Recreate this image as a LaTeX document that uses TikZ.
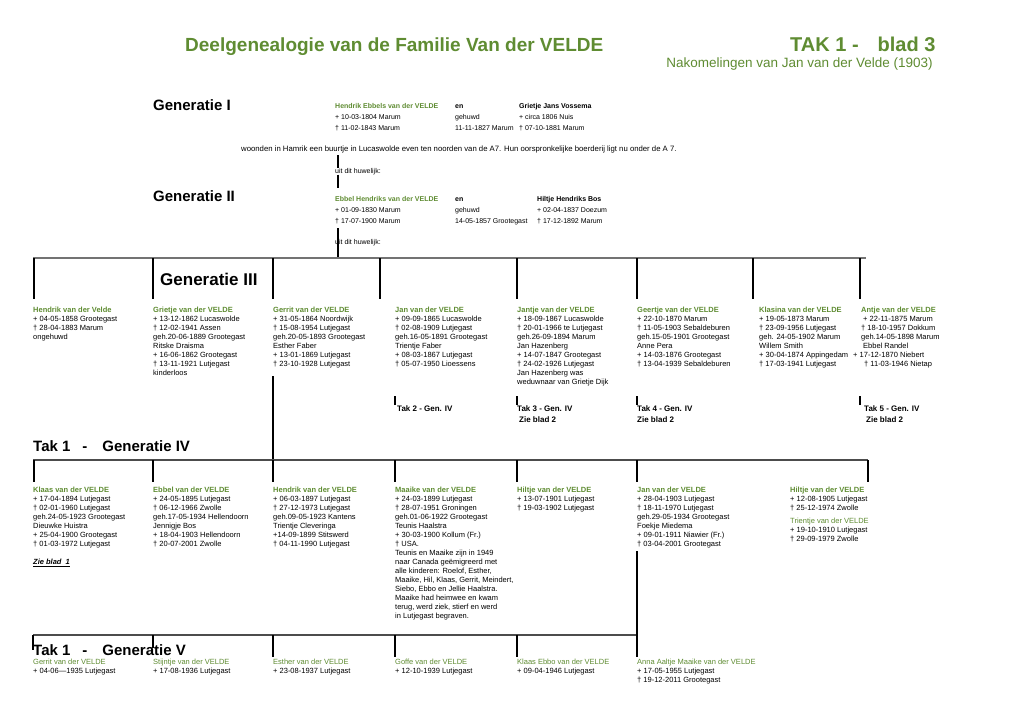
\documentclass[tikz,border=0pt]{standalone}
\usepackage{fontspec}
\setmainfont{Liberation Sans}
\definecolor{famgroen}{RGB}{95,140,50}
\tikzset{
  kop/.style={anchor=base west, inner sep=0pt, font=\fontsize{15}{18}\selectfont\bfseries},
  kind/.style={anchor=north west, inner sep=0pt, align=left, font=\fontsize{7.5}{9}\selectfont},
  ouder/.style={anchor=north west, inner sep=0pt, align=left, font=\fontsize{7}{11}\selectfont},
  tak/.style={anchor=north west, inner sep=0pt, align=left, font=\fontsize{8}{11}\selectfont\bfseries},
  balk/.style={draw=black!55, line width=2.4pt},
  balkdun/.style={draw=black!70, line width=1.6pt},
  lijn/.style={line width=1.2pt},
  stam/.style={line width=1.8pt}
}
\newcommand{\naam}[1]{\textcolor{famgroen}{\bfseries #1}}
\newcommand{\kleinnaam}[1]{\textcolor{famgroen}{#1}}
\begin{document}
\begin{tikzpicture}[x=1pt,y=-1pt]
  \useasboundingbox[fill=white] (0,0) rectangle (1020,721);

  \node[anchor=base west, inner sep=0pt, text=famgroen, font=\fontsize{19}{22}\selectfont\bfseries] (titel) at (185,51) {Deelgenealogie van de Familie Van der VELDE};
  \node[anchor=base west, inner sep=0pt, text=famgroen, font=\fontsize{20}{22}\selectfont\bfseries] (blad) at (790,51) {TAK 1 -\hspace{19pt}blad 3};
  \node[anchor=base east, inner sep=0pt, text=famgroen, font=\fontsize{13.5}{16}\selectfont] (nakomelingen) at (933,67) {Nakomelingen van Jan van der Velde (1903)};

  \node[kop] (gen1) at (153,110) {Generatie I};
  \node[ouder] (hendrikI) at (335,101) {\strut\naam{Hendrik Ebbels van der VELDE}\\+ 10-03-1804 Marum\\† 11-02-1843 Marum};
  \node[ouder] (huw1) at (455,101) {\strut\textbf{en}\\gehuwd\\11-11-1827 Marum};
  \node[ouder] (grietjeI) at (519,101) {\strut\textbf{Grietje Jans Vossema}\\+ circa 1806 Nuis\\† 07-10-1881 Marum};
  \node[anchor=base west, inner sep=0pt, font=\fontsize{7.75}{9}\selectfont] (woonden) at (241,151) {woonden in Hamrik een buurtje in Lucaswolde even ten noorden van de A7. Hun oorspronkelijke boerderij ligt nu onder de A 7.};
  \node[anchor=base west, inner sep=0pt, font=\fontsize{7}{9}\selectfont] (uit1) at (335,173) {uit dit huwelijk:};
  \coordinate (stam1) at (338,155);
  \coordinate (stam2) at (338,188);
  \draw[stam] (stam1) -- (stam1 |- uit1.north);
  \draw[stam] (stam1 |- uit1.south) -- (stam2);

  \node[kop] (gen2) at (153,201) {Generatie II};
  \node[ouder] (ebbelII) at (335,194) {\strut\naam{Ebbel Hendriks van der VELDE}\\+ 01-09-1830 Marum\\† 17-07-1900 Marum};
  \node[ouder] (huw2) at (455,194) {\strut\textbf{en}\\gehuwd\\14-05-1857 Grootegast};
  \node[ouder] (hiltjeII) at (537,194) {\strut\textbf{Hiltje Hendriks Bos}\\+ 02-04-1837 Doezum\\† 17-12-1892 Marum};
  \node[anchor=base west, inner sep=0pt, font=\fontsize{7}{9}\selectfont] (uit2) at (335,244) {uit dit huwelijk:};
  \coordinate (stam3) at (338,228);
  \coordinate (balk3l) at (33,258);
  \coordinate (balk3r) at (866,258);
  \draw[stam] (stam3) -- (stam3 |- balk3l);
  \draw[balk] (balk3l) -- (balk3r);

  \node[kop, font=\fontsize{17}{20}\selectfont\bfseries] (gen3) at (160,285) {Generatie III};
  \node[kind] (hendrikIII) at (33,307) {\naam{Hendrik van der Velde}\\+ 04-05-1858 Grootegast\\† 28-04-1883 Marum\\ongehuwd};
  \node[kind] (grietjeIII) at (153,307) {\naam{Grietje van der VELDE}\\+ 13-12-1862 Lucaswolde\\† 12-02-1941 Assen\\geh.20-06-1889 Grootegast\\Ritske Draisma\\+ 16-06-1862 Grootegast\\† 13-11-1921 Lutjegast\\kinderloos};
  \node[kind] (gerritIII) at (273,307) {\naam{Gerrit van der VELDE}\\+ 31-05-1864 Noordwijk\\† 15-08-1954 Lutjegast\\geh.20-05-1893 Grootegast\\Esther Faber\\+ 13-01-1869 Lutjegast\\† 23-10-1928 Lutjegast};
  \node[kind] (janIII) at (395,307) {\naam{Jan van der VELDE}\\+ 09-09-1865 Lucaswolde\\† 02-08-1909 Lutjegast\\geh.16-05-1891 Grootegast\\Trientje Faber\\+ 08-03-1867 Lutjegast\\† 05-07-1950 Lioessens};
  \node[kind] (jantjeIII) at (517,307) {\naam{Jantje van der VELDE}\\+ 18-09-1867 Lucaswolde\\† 20-01-1966 te Lutjegast\\geh.26-09-1894 Marum\\Jan Hazenberg\\+ 14-07-1847 Grootegast\\† 24-02-1926 Lutjegast\\Jan Hazenberg was\\weduwnaar van Grietje Dijk};
  \node[kind] (geertjeIII) at (637,307) {\naam{Geertje van der VELDE}\\+ 22-10-1870 Marum\\† 11-05-1903 Sebaldeburen\\geh.15-05-1901 Grootegast\\Anne Pera\\+ 14-03-1876 Grootegast\\† 13-04-1939 Sebaldeburen};
  \node[kind] (klasinaIII) at (759,307) {\naam{Klasina van der VELDE}\\+ 19-05-1873 Marum\\† 23-09-1956 Lutjegast\\geh. 24-05-1902 Marum\\Willem Smith\\+ 30-04-1874 Appingedam\\† 17-03-1941 Lutjegast};
  \node[kind] (antjeIII) at (861,307) {\naam{Antje van der VELDE}\\\hspace*{2pt}+ 22-11-1875 Marum\\† 18-10-1957 Dokkum\\geh.14-05-1898 Marum\\\hspace*{2pt}Ebbel Randel\\\hspace*{-8pt}+ 17-12-1870 Niebert\\\hspace*{3pt}† 11-03-1946 Nietap};
  \draw[lijn] (hendrikIII.north west |- balk3l) ++(1,0) -- ++(0,41);
  \draw[lijn] (grietjeIII.north west |- balk3l) -- ++(0,41);
  \draw[lijn] (gerritIII.north west |- balk3l) -- ++(0,41);
  \draw[lijn] (janIII.north west |- balk3l) ++(-15,0) -- ++(0,41);
  \draw[lijn] (jantjeIII.north west |- balk3l) -- ++(0,41);
  \draw[lijn] (geertjeIII.north west |- balk3l) -- ++(0,41);
  \draw[lijn] (klasinaIII.north west |- balk3l) ++(-6,0) -- ++(0,41);
  \draw[lijn] (antjeIII.north west |- balk3l) ++(-1,0) -- ++(0,41);

  \node[tak] (tak2) at (397,405) {Tak 2 - Gen. IV};
  \node[tak] (tak3) at (517,405) {Tak 3 - Gen. IV\\\hspace*{2pt}Zie blad 2};
  \node[tak] (tak4) at (637,405) {Tak 4 - Gen. IV\\Zie blad 2};
  \node[tak] (tak5) at (864,405) {Tak 5 - Gen. IV\\\hspace*{2pt}Zie blad 2};
  \draw[lijn] ([xshift=-2pt]tak2.north west) -- ++(0,-9);
  \draw[lijn] (tak3.north west) -- ++(0,-9);
  \draw[lijn] (tak4.north west) -- ++(0,-9);
  \draw[lijn] ([xshift=-4pt]tak5.north west) -- ++(0,-9);

  \node[kop] (gen4) at (33,451) {Tak 1\hspace{12pt}-\hspace{15pt}Generatie IV};
  \coordinate (balk4l) at (33,460);
  \coordinate (balk4r) at (868,460);
  \draw[lijn] (gerritIII.south west) ++(0,8) -- (gerritIII.south west |- balk4l);
  \draw[balkdun] (balk4l) -- (balk4r);

  \node[kind] (klaasIV) at (33,487) {\naam{Klaas van der VELDE}\\+ 17-04-1894 Lutjegast\\† 02-01-1960 Lutjegast\\geh.24-05-1923 Grootegast\\Dieuwke Huistra\\+ 25-04-1900 Grootegast\\† 01-03-1972 Lutjegast};
  \node[kind] (ebbelIV) at (153,487) {\naam{Ebbel van der VELDE}\\+ 24-05-1895 Lutjegast\\† 06-12-1966 Zwolle\\geh.17-05-1934 Hellendoorn\\Jennigje Bos\\+ 18-04-1903 Hellendoorn\\† 20-07-2001 Zwolle};
  \node[kind] (hendrikIV) at (273,487) {\naam{Hendrik van der VELDE}\\+ 06-03-1897 Lutjegast\\† 27-12-1973 Lutjegast\\geh.09-05-1923 Kantens\\Trientje Cleveringa\\+14-09-1899 Stitswerd\\† 04-11-1990 Lutjegast};
  \node[kind] (maaikeIV) at (395,487) {\naam{Maaike van der VELDE}\\+ 24-03-1899 Lutjegast\\† 28-07-1951 Groningen\\geh.01-06-1922 Grootegast\\Teunis Haalstra\\+ 30-03-1900 Kollum (Fr.)\\† USA.\\Teunis en Maaike zijn in 1949\\naar Canada geëmigreerd met\\alle kinderen: Roelof, Esther,\\Maaike, Hil, Klaas, Gerrit, Meindert,\\Siebo, Ebbo en Jellie Haalstra.\\Maaike had heimwee en kwam\\terug, werd ziek, stierf en werd\\in Lutjegast begraven.};
  \node[kind] (hiltjeIV) at (517,487) {\naam{Hiltje van der VELDE}\\+ 13-07-1901 Lutjegast\\† 19-03-1902 Lutjegast};
  \node[kind] (janIV) at (637,487) {\naam{Jan van der VELDE}\\+ 28-04-1903 Lutjegast\\† 18-11-1970 Lutjegast\\geh.29-05-1934 Grootegast\\Foekje Miedema\\+ 09-01-1911 Niawier (Fr.)\\† 03-04-2001 Grootegast};
  \node[kind] (hiltjeIVb) at (790,487) {\naam{Hiltje van der VELDE}\\+ 12-08-1905 Lutjegast\\† 25-12-1974 Zwolle\\[4pt]\kleinnaam{Trientje van der VELDE}\\+ 19-10-1910 Lutjegast\\† 29-09-1979 Zwolle};
  \node[kind, anchor=north west, font=\fontsize{7.5}{9}\selectfont\bfseries\itshape] (zieblad1) at (33,559) {\underline{Zie blad\ \ 1}};
  \draw[lijn] (klaasIV.north west |- balk4l) ++(1,0) -- ++(0,22);
  \draw[lijn] (ebbelIV.north west |- balk4l) -- ++(0,22);
  \draw[lijn] (hendrikIV.north west |- balk4l) -- ++(0,22);
  \draw[lijn] (maaikeIV.north west |- balk4l) -- ++(0,22);
  \draw[lijn] (hiltjeIV.north west |- balk4l) -- ++(0,22);
  \draw[lijn] (janIV.north west |- balk4l) -- ++(0,22);
  \draw[lijn] (balk4r) -- ++(0,22);

  \node[kop] (gen5) at (33,655) {Tak 1\hspace{12pt}-\hspace{15pt}Generatie V};
  \coordinate (balk5l) at (33,635);
  \coordinate (balk5r) at (637,635);
  \draw[balkdun] (balk5l) -- (balk5r);
  \node[kind] (gerritV) at (33,659) {\kleinnaam{Gerrit van der VELDE}\\+ 04-06—1935 Lutjegast};
  \node[kind] (stijntjeV) at (153,659) {\kleinnaam{Stijntje van der VELDE}\\+ 17-08-1936 Lutjegast};
  \node[kind] (estherV) at (273,659) {\kleinnaam{Esther van der VELDE}\\+ 23-08-1937 Lutjegast};
  \node[kind] (goffeV) at (395,659) {\kleinnaam{Goffe van der VELDE}\\+ 12-10-1939 Lutjegast};
  \node[kind] (klaasV) at (517,659) {\kleinnaam{Klaas Ebbo van der VELDE}\\+ 09-04-1946 Lutjegast};
  \node[kind] (annaV) at (637,659) {\kleinnaam{Anna Aaltje Maaike van der VELDE}\\+ 17-05-1955 Lutjegast\\† 19-12-2011 Grootegast};
  \draw[lijn] (balk5l) -- ++(0,15);
  \draw[lijn] (stijntjeV.north west |- balk5l) -- ++(0,13);
  \draw[lijn] (estherV.north west |- balk5l) -- ++(0,22);
  \draw[lijn] (goffeV.north west |- balk5l) -- ++(0,22);
  \draw[lijn] (klaasV.north west |- balk5l) -- ++(0,22);
  \draw[lijn] (janIV.south west) ++(0,3) -- ([yshift=2pt]annaV.north west);
\end{tikzpicture}
\end{document}
